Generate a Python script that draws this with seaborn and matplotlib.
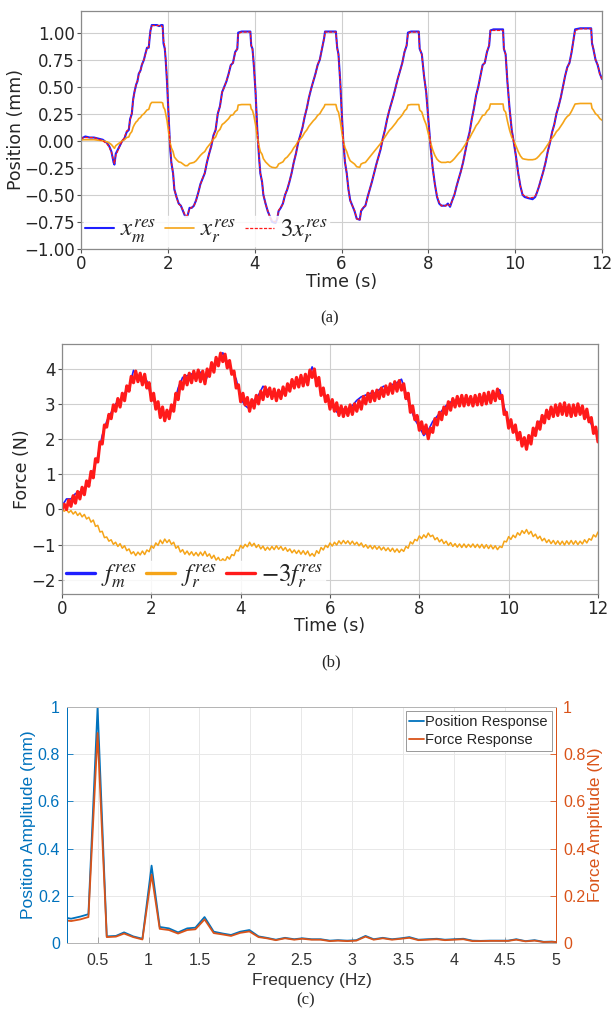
import numpy as np
import pandas as pd
import matplotlib
matplotlib.use("Agg")
import matplotlib.pyplot as plt
import seaborn as sns

sns.set_style("ticks")
plt.rcParams["font.family"] = ["DejaVu Sans"]
plt.rcParams["mathtext.fontset"] = "stix"

# ---------------- (a) position response ----------------
t_pos = [0.0, 0.05, 0.1, 0.2, 0.3, 0.4, 0.5, 0.6, 0.65, 0.7, 0.75, 0.77, 0.8, 0.85, 0.9, 0.95,
         1.0, 1.05, 1.1, 1.13, 1.17, 1.2, 1.23, 1.27, 1.3, 1.33, 1.37, 1.4, 1.45, 1.48, 1.52, 1.56, 1.58, 1.6, 1.63, 1.75, 1.8, 1.85, 1.88, 1.9, 1.93, 1.95, 1.98,
         2.02, 2.05, 2.08, 2.12, 2.15, 2.2, 2.25, 2.3, 2.35, 2.4, 2.45, 2.5, 2.55, 2.6, 2.65, 2.7, 2.75, 2.8, 2.85, 2.9, 2.95,
         3.0, 3.05, 3.1, 3.15, 3.2, 3.25, 3.3, 3.35, 3.4, 3.45, 3.5, 3.55, 3.6, 3.62, 3.7, 3.8, 3.9, 3.92, 3.95, 3.98,
         4.02, 4.06, 4.1, 4.13, 4.17, 4.2, 4.25, 4.3, 4.35, 4.4, 4.48, 4.52, 4.55, 4.6, 4.65, 4.7, 4.75, 4.8, 4.85, 4.9, 4.95,
         5.0, 5.05, 5.1, 5.15, 5.2, 5.25, 5.3, 5.35, 5.4, 5.45, 5.5, 5.55, 5.6, 5.62, 5.7, 5.8, 5.87, 5.9, 5.93, 5.97,
         6.0, 6.04, 6.08, 6.12, 6.16, 6.2, 6.25, 6.3, 6.35, 6.42, 6.45, 6.5, 6.55, 6.6, 6.65, 6.7, 6.75, 6.8, 6.85, 6.9, 6.95,
         7.0, 7.05, 7.1, 7.15, 7.2, 7.25, 7.3, 7.35, 7.4, 7.45, 7.5, 7.53, 7.6, 7.7, 7.78, 7.8, 7.85, 7.9, 7.95,
         8.0, 8.05, 8.1, 8.15, 8.2, 8.25, 8.3, 8.4, 8.45, 8.5, 8.55, 8.6, 8.65, 8.7, 8.75, 8.8, 8.85, 8.9, 8.95,
         9.0, 9.05, 9.1, 9.15, 9.2, 9.25, 9.3, 9.35, 9.4, 9.43, 9.5, 9.6, 9.72, 9.74, 9.78, 9.82, 9.87, 9.92, 9.97,
         10.02, 10.07, 10.12, 10.17, 10.22, 10.3, 10.4, 10.46, 10.5, 10.55, 10.6, 10.65, 10.7, 10.75, 10.8, 10.85, 10.9, 10.95,
         11.0, 11.05, 11.1, 11.15, 11.2, 11.25, 11.3, 11.35, 11.38, 11.5, 11.6, 11.75, 11.77, 11.8, 11.85, 11.9, 11.95, 12.0]
x_m = [0.02, 0.03, 0.04, 0.03, 0.03, 0.02, 0.01, -0.02, -0.05, -0.1, -0.2, -0.22, -0.12, -0.08, -0.04, 0.0,
       0.02, 0.08, 0.1, 0.2, 0.25, 0.38, 0.45, 0.52, 0.55, 0.62, 0.65, 0.7, 0.75, 0.8, 0.86, 0.86, 0.95, 1.02, 1.07, 1.07, 1.06, 1.07, 1.07, 0.9, 0.85, 0.75, 0.55,
       0.2, -0.05, -0.2, -0.3, -0.45, -0.52, -0.58, -0.6, -0.65, -0.7, -0.7, -0.62, -0.62, -0.6, -0.55, -0.48, -0.4, -0.35, -0.3, -0.2, -0.12,
       -0.05, 0.05, 0.1, 0.25, 0.32, 0.45, 0.5, 0.55, 0.62, 0.7, 0.72, 0.82, 0.85, 1.0, 1.01, 1.01, 1.01, 0.88, 0.85, 0.7,
       0.45, 0.1, -0.15, -0.3, -0.38, -0.5, -0.58, -0.65, -0.7, -0.75, -0.76, -0.72, -0.65, -0.62, -0.58, -0.5, -0.45, -0.38, -0.3, -0.2, -0.12,
       -0.02, 0.05, 0.12, 0.22, 0.3, 0.4, 0.48, 0.55, 0.62, 0.7, 0.75, 0.85, 0.95, 1.01, 1.01, 1.01, 1.01, 0.86, 0.8, 0.55,
       0.3, 0.0, -0.2, -0.3, -0.45, -0.55, -0.6, -0.65, -0.72, -0.73, -0.65, -0.62, -0.6, -0.52, -0.45, -0.38, -0.3, -0.22, -0.15, -0.08, 0.02,
       0.1, 0.2, 0.28, 0.35, 0.42, 0.5, 0.58, 0.65, 0.72, 0.82, 0.88, 1.0, 1.01, 1.01, 1.01, 0.85, 0.8, 0.6, 0.45,
       0.2, -0.05, -0.25, -0.4, -0.52, -0.58, -0.6, -0.6, -0.58, -0.61, -0.55, -0.5, -0.42, -0.35, -0.28, -0.2, -0.1, 0.0, 0.08,
       0.2, 0.3, 0.42, 0.5, 0.6, 0.7, 0.72, 0.82, 0.88, 1.02, 1.03, 1.03, 1.03, 0.85, 0.8, 0.55, 0.3, 0.1, -0.02,
       -0.15, -0.3, -0.42, -0.5, -0.52, -0.53, -0.54, -0.52, -0.48, -0.42, -0.35, -0.28, -0.2, -0.1, -0.02, 0.08, 0.15, 0.25,
       0.32, 0.4, 0.5, 0.6, 0.68, 0.72, 0.82, 0.95, 1.03, 1.04, 1.04, 1.04, 0.9, 0.85, 0.75, 0.7, 0.62, 0.57]
x_r = [0.005, 0.01, 0.01, 0.01, 0.01, 0.005, 0.0, -0.01, -0.02, -0.035, -0.06, -0.07, -0.045, -0.03, -0.015, 0.0,
       0.01, 0.03, 0.035, 0.065, 0.085, 0.125, 0.15, 0.175, 0.185, 0.205, 0.215, 0.235, 0.25, 0.265, 0.285, 0.29, 0.315, 0.34, 0.355, 0.355, 0.355, 0.355, 0.35, 0.31, 0.29, 0.25, 0.19,
       0.07, -0.015, -0.065, -0.1, -0.15, -0.175, -0.195, -0.2, -0.215, -0.23, -0.23, -0.21, -0.205, -0.2, -0.185, -0.16, -0.135, -0.115, -0.1, -0.065, -0.04,
       -0.015, 0.015, 0.035, 0.085, 0.105, 0.15, 0.165, 0.185, 0.205, 0.235, 0.24, 0.27, 0.285, 0.33, 0.335, 0.335, 0.335, 0.295, 0.28, 0.235,
       0.15, 0.035, -0.05, -0.1, -0.125, -0.165, -0.195, -0.215, -0.235, -0.245, -0.25, -0.24, -0.215, -0.205, -0.195, -0.165, -0.15, -0.125, -0.1, -0.065, -0.04,
       -0.005, 0.015, 0.04, 0.075, 0.1, 0.135, 0.16, 0.185, 0.205, 0.235, 0.25, 0.285, 0.315, 0.335, 0.335, 0.335, 0.335, 0.285, 0.265, 0.185,
       0.1, 0.0, -0.065, -0.1, -0.15, -0.185, -0.2, -0.215, -0.24, -0.245, -0.215, -0.205, -0.2, -0.175, -0.15, -0.125, -0.1, -0.075, -0.05, -0.025, 0.005,
       0.035, 0.065, 0.095, 0.115, 0.14, 0.165, 0.195, 0.215, 0.24, 0.275, 0.295, 0.33, 0.335, 0.335, 0.335, 0.285, 0.265, 0.2, 0.15,
       0.065, -0.015, -0.085, -0.135, -0.17, -0.19, -0.2, -0.2, -0.195, -0.2, -0.185, -0.165, -0.14, -0.115, -0.095, -0.065, -0.035, 0.0, 0.025,
       0.065, 0.1, 0.14, 0.165, 0.2, 0.235, 0.24, 0.275, 0.295, 0.34, 0.34, 0.34, 0.34, 0.285, 0.265, 0.185, 0.1, 0.035, -0.005,
       -0.05, -0.1, -0.14, -0.165, -0.17, -0.175, -0.175, -0.17, -0.16, -0.14, -0.115, -0.095, -0.065, -0.035, -0.005, 0.025, 0.05, 0.085,
       0.105, 0.135, 0.165, 0.2, 0.225, 0.24, 0.275, 0.315, 0.34, 0.345, 0.345, 0.345, 0.3, 0.285, 0.25, 0.235, 0.205, 0.19]

# ---------------- (b) force response ----------------
t_force = [round(0.05 * k, 2) for k in range(241)]
f_r = [0.00, -0.05, 0.00, -0.09, -0.03, -0.13, -0.06, -0.17, -0.10, -0.21, -0.14, -0.27, -0.22, -0.36, -0.30, -0.48, -0.45, -0.64, -0.62, -0.80,
       -0.78, -0.90, -0.86, -0.99, -0.93, -1.05, -0.97, -1.10, -1.03, -1.17, -1.12, -1.26, -1.20, -1.31, -1.21, -1.29, -1.18, -1.28, -1.15, -1.20,
       -1.03, -1.10, -0.95, -1.02, -0.87, -0.97, -0.84, -0.94, -0.86, -0.99, -0.93, -1.10, -1.04, -1.21, -1.14, -1.27, -1.18, -1.29, -1.20, -1.31,
       -1.22, -1.32, -1.21, -1.31, -1.19, -1.33, -1.26, -1.39, -1.30, -1.44, -1.36, -1.48, -1.40, -1.47, -1.34, -1.41, -1.28, -1.31, -1.15, -1.18,
       -1.02, -1.10, -0.99, -1.06, -0.93, -1.04, -0.96, -1.08, -1.00, -1.12, -1.04, -1.16, -1.07, -1.15, -1.05, -1.14, -1.03, -1.13, -1.05, -1.16,
       -1.08, -1.19, -1.12, -1.23, -1.15, -1.25, -1.16, -1.27, -1.17, -1.28, -1.18, -1.32, -1.25, -1.33, -1.17, -1.25, -1.08, -1.15, -1.02, -1.08,
       -0.95, -1.04, -0.93, -1.01, -0.89, -0.98, -0.88, -0.97, -0.89, -0.99, -0.90, -1.00, -0.93, -1.03, -0.95, -1.07, -1.00, -1.10, -1.02, -1.12,
       -1.03, -1.13, -1.05, -1.15, -1.07, -1.17, -1.09, -1.19, -1.10, -1.21, -1.12, -1.22, -1.13, -1.19, -1.05, -1.10, -0.92, -0.98, -0.85, -0.89,
       -0.75, -0.83, -0.72, -0.80, -0.67, -0.77, -0.73, -0.86, -0.80, -0.92, -0.85, -0.97, -0.90, -1.02, -0.94, -1.05, -0.97, -1.07, -0.98, -1.08,
       -0.98, -1.08, -0.99, -1.07, -0.98, -1.08, -0.99, -1.09, -0.99, -1.10, -1.00, -1.11, -1.01, -1.12, -1.03, -1.14, -1.05, -1.08, -0.90, -0.92,
       -0.77, -0.85, -0.73, -0.80, -0.66, -0.73, -0.60, -0.68, -0.57, -0.70, -0.62, -0.77, -0.70, -0.83, -0.76, -0.89, -0.82, -0.94, -0.86, -0.97,
       -0.88, -0.99, -0.89, -1.00, -0.90, -1.01, -0.89, -0.99, -0.88, -0.99, -0.89, -1.00, -0.90, -0.98, -0.86, -0.95, -0.83, -0.87, -0.72, -0.78, -0.64]
t_fm = [round(0.1 * k, 1) for k in range(121)]
f_m = [0.1, 0.3, 0.3, 0.45, 0.5, 0.6, 0.75, 1.1, 1.5, 2.1,
       2.5, 2.75, 3.0, 3.1, 3.3, 3.45, 3.95, 3.75, 3.6, 3.65,
       3.2, 3.0, 2.8, 2.6, 2.7, 2.95, 3.45, 3.75, 3.8, 3.85,
       3.75, 3.9, 3.6, 3.95, 4.1, 4.2, 4.45, 4.2, 3.95, 3.7,
       3.15, 2.95, 2.85, 3.1, 3.25, 3.5, 3.4, 3.3, 3.2, 3.35,
       3.4, 3.5, 3.55, 3.6, 3.65, 3.7, 4.05, 3.7, 3.4, 3.2,
       3.0, 2.85, 2.7, 2.85, 2.8, 2.95, 3.1, 3.2, 3.25, 3.3,
       3.3, 3.4, 3.5, 3.45, 3.55, 3.6, 3.7, 3.3, 2.9, 2.55,
       2.35, 2.1, 2.25, 2.5, 2.65, 2.8, 2.95, 3.05, 3.1, 3.1,
       3.15, 3.05, 3.1, 3.1, 3.15, 3.2, 3.2, 3.25, 3.4, 2.9,
       2.5, 2.3, 2.1, 1.95, 1.85, 2.0, 2.3, 2.5, 2.65, 2.75,
       2.8, 2.9, 2.85, 2.9, 2.8, 2.75, 2.85, 2.7, 2.55, 2.3, 2.05]

# ---------------- (c) spectrum ----------------
freq = [0.15, 0.24, 0.33, 0.41, 0.5, 0.59, 0.68, 0.76, 0.85, 0.94, 1.03, 1.11, 1.2, 1.29, 1.38,
        1.46, 1.55, 1.64, 1.73, 1.81, 1.9, 1.99, 2.08, 2.16, 2.25, 2.34, 2.43, 2.51, 2.6, 2.69,
        2.78, 2.86, 2.95, 3.04, 3.13, 3.21, 3.3, 3.39, 3.48, 3.56, 3.65, 3.74, 3.83, 3.91, 4.0,
        4.09, 4.18, 4.26, 4.35, 4.44, 4.53, 4.61, 4.7, 4.79, 4.88, 4.96, 5.05]
pos_amp = [0.11, 0.103, 0.112, 0.122, 1.0, 0.028, 0.03, 0.045, 0.028, 0.018, 0.328, 0.068, 0.062, 0.045, 0.062,
           0.065, 0.11, 0.048, 0.04, 0.034, 0.048, 0.055, 0.028, 0.022, 0.014, 0.022, 0.016, 0.02, 0.016, 0.016,
           0.01, 0.012, 0.01, 0.012, 0.03, 0.016, 0.022, 0.016, 0.02, 0.025, 0.014, 0.016, 0.018, 0.014, 0.016,
           0.018, 0.01, 0.009, 0.01, 0.01, 0.01, 0.016, 0.008, 0.012, 0.005, 0.006, 0.002]
force_amp = [0.098, 0.093, 0.1, 0.11, 0.89, 0.025, 0.027, 0.04, 0.025, 0.015, 0.29, 0.06, 0.055, 0.04, 0.055,
             0.058, 0.1, 0.042, 0.036, 0.03, 0.043, 0.049, 0.025, 0.02, 0.012, 0.02, 0.014, 0.018, 0.014, 0.014,
             0.008, 0.01, 0.008, 0.01, 0.027, 0.014, 0.02, 0.014, 0.018, 0.022, 0.012, 0.014, 0.016, 0.012, 0.014,
             0.016, 0.008, 0.008, 0.009, 0.009, 0.009, 0.014, 0.007, 0.01, 0.004, 0.005, 0.002]

pos_df = pd.DataFrame({"t": t_pos, "xm": x_m, "xr": x_r})
pos_df["xr3"] = 3 * pos_df["xr"]
force_df = pd.DataFrame({"t": t_force, "fr": f_r})
force_df["fr3"] = -3 * force_df["fr"]
fm_df = pd.DataFrame({"t": t_fm, "fm": f_m})
spec_df = pd.DataFrame({"f": freq, "pos": pos_amp, "force": force_amp})

fig = plt.figure(figsize=(6.11, 10.25), dpi=100)

BLUE, ORANGE, RED = "#1f1fff", "#f5a418", "#ff1a1a"
minus_fmt = matplotlib.ticker.FuncFormatter(lambda v, p: f"{v:.2f}".replace("-", "\u2212"))


def style_py(ax):
    ax.grid(True, color="#cfcfcf", lw=0.8)
    ax.set_axisbelow(True)
    for s in ax.spines.values():
        s.set_color("#8a8a8a")
        s.set_linewidth(0.9)
    ax.tick_params(labelsize=12, length=3, width=0.8, color="#555555", pad=1.5)


leg_kw = dict(loc="lower left", ncol=3, fontsize=18, frameon=True, framealpha=0.85, edgecolor="white",
              handlelength=1.15, handletextpad=0.25, columnspacing=0.35, borderpad=0.05, borderaxespad=0.1)

# (a)
ax_a = fig.add_axes([0.1326, 0.7571, 0.8527, 0.2322])
sns.lineplot(data=pos_df, x="t", y="xm", ax=ax_a, color=BLUE, lw=1.5, estimator=None, label=r"$x_m^{res}$")
sns.lineplot(data=pos_df, x="t", y="xr", ax=ax_a, color=ORANGE, lw=1.2, estimator=None, label=r"$x_r^{res}$")
sns.lineplot(data=pos_df, x="t", y="xr3", ax=ax_a, color=RED, lw=0.9, estimator=None,
             linestyle=(0, (2.5, 1.2)), label=r"$3x_r^{res}$")
ax_a.set_xlim(0, 12)
ax_a.set_ylim(-1.0, 1.2)
ax_a.set_xticks(range(0, 13, 2))
ax_a.set_yticks(np.arange(-1.0, 1.01, 0.25))
ax_a.yaxis.set_major_formatter(minus_fmt)
ax_a.set_xlabel("Time (s)", fontsize=12.5, labelpad=0)
ax_a.set_ylabel("Position (mm)", fontsize=12.5, labelpad=-1)
style_py(ax_a)
ax_a.legend(**leg_kw)

# (b)
ax_b = fig.add_axes([0.1015, 0.4205, 0.8772, 0.2439])
sns.lineplot(data=fm_df, x="t", y="fm", ax=ax_b, color=BLUE, lw=1.2, estimator=None, label=r"$f_m^{res}$")
sns.lineplot(data=force_df, x="t", y="fr", ax=ax_b, color=ORANGE, lw=1.1, estimator=None, label=r"$f_r^{res}$")
sns.lineplot(data=force_df, x="t", y="fr3", ax=ax_b, color=RED, lw=2.3, estimator=None, label=r"$-3f_r^{res}$")
ax_b.set_xlim(0, 12)
ax_b.set_ylim(-2.4, 4.7)
ax_b.set_xticks(range(0, 13, 2))
ax_b.set_yticks(range(-2, 5))
ax_b.set_xlabel("Time (s)", fontsize=12.5, labelpad=-1)
ax_b.set_ylabel("Force (N)", fontsize=12.5, labelpad=0)
style_py(ax_b)
leg_b = ax_b.legend(**leg_kw)
for h in leg_b.get_lines():
    h.set_linewidth(2.4)

# (c)
C_BLUE, C_ORANGE = "#0072BD", "#D95319"
ax_c = fig.add_axes([0.1097, 0.08, 0.8003, 0.2302])
ax_c2 = ax_c.twinx()
sns.lineplot(data=spec_df, x="f", y="pos", ax=ax_c, color=C_BLUE, lw=1.3, estimator=None)
sns.lineplot(data=spec_df, x="f", y="force", ax=ax_c2, color=C_ORANGE, lw=1.3, estimator=None)
for a in (ax_c, ax_c2):
    a.set_xlim(0.2, 5)
    a.set_ylim(0, 1)
    a.set_yticks([0, 0.2, 0.4, 0.6, 0.8, 1])
    a.set_yticklabels(["0", "0.2", "0.4", "0.6", "0.8", "1"])
ax_c.set_xticks([0.5, 1, 1.5, 2, 2.5, 3, 3.5, 4, 4.5, 5])
ax_c.set_xticklabels(["0.5", "1", "1.5", "2", "2.5", "3", "3.5", "4", "4.5", "5"],
                     family="Liberation Sans", fontsize=11.5, color="#333333")
ax_c.grid(True, color="#e8e8e8", lw=0.7)
ax_c.set_axisbelow(True)
ax_c.tick_params(axis="x", direction="in", length=4, width=0.6, color="#999999", pad=7)
ax_c.tick_params(axis="y", direction="in", length=4, width=0.6, colors=C_BLUE, labelsize=11.5, pad=5)
ax_c2.tick_params(axis="y", direction="in", length=4, width=0.6, colors=C_ORANGE, labelsize=11.5, pad=5)
for lab in ax_c.get_yticklabels() + ax_c2.get_yticklabels():
    lab.set_family("Liberation Sans")
for a in (ax_c, ax_c2):
    a.spines["top"].set_color("#b5b5b5")
    a.spines["bottom"].set_color("#b5b5b5")
    a.spines["left"].set_color(C_BLUE)
    a.spines["right"].set_color(C_ORANGE)
    for s in a.spines.values():
        s.set_linewidth(0.7)
ax_c.set_xlabel("Frequency (Hz)", family="Liberation Sans", fontsize=12.5, color="#333333", labelpad=4)
ax_c.set_ylabel("Position Amplitude (mm)", family="Liberation Sans", fontsize=12.5, color=C_BLUE, labelpad=1)
ax_c2.set_ylabel("Force Amplitude (N)", family="Liberation Sans", fontsize=12.5, color=C_ORANGE, labelpad=2)
handles = [ax_c.get_lines()[0], ax_c2.get_lines()[0]]
leg_c = ax_c2.legend(handles, ["Position Response", "Force Response"], loc="upper right",
                     prop={"family": "Liberation Sans", "size": 10.5}, frameon=True, fancybox=False,
                     edgecolor="#999999", framealpha=1, handlelength=1.0, handletextpad=0.1,
                     borderpad=0.25, labelspacing=0.3, borderaxespad=0.3)
leg_c.get_frame().set_linewidth(0.7)

# captions
for x, y, s in [(0.540, 1 - 318 / 1025, "(a)"), (0.542, 1 - 662 / 1025, "(b)"), (0.50, 1 - 1000 / 1025, "(c)")]:
    fig.text(x, y, s, family="Liberation Serif", fontsize=12, ha="center", va="center")

fig.savefig("out.png", dpi=100)
